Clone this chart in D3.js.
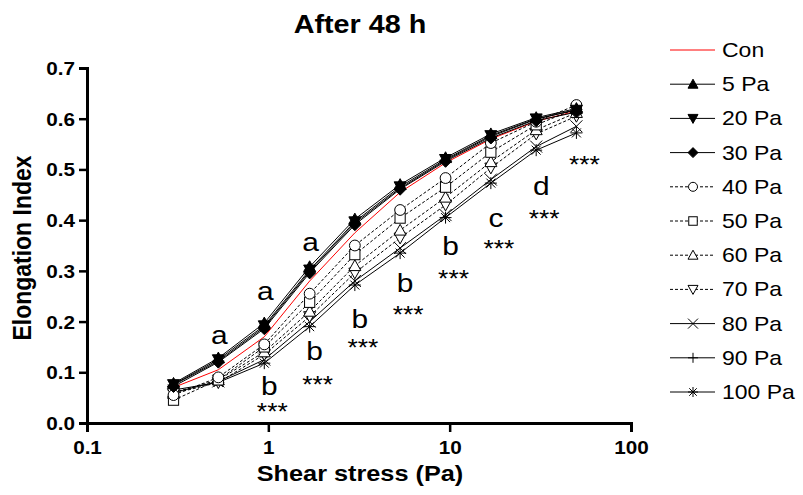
<!DOCTYPE html>
<html><head><meta charset="utf-8">
<script src="https://cdn.jsdelivr.net/npm/d3@7"></script>
<style>body{margin:0;background:#fff}svg{display:block}</style>
</head><body><svg id="c" width="803" height="495"></svg>
<script>
// ---------- data ----------
const shear = [0.3, 0.53, 0.95, 1.69, 3, 5.33, 9.49, 16.87, 30, 50];
const seriesNames = ["Con", "5 Pa", "20 Pa", "30 Pa", "40 Pa", "50 Pa", "60 Pa", "70 Pa", "80 Pa", "90 Pa", "100 Pa"];
const con   = [0.070, 0.105, 0.170, 0.280, 0.375, 0.455, 0.513, 0.560, 0.595, 0.615];
const pa5   = [0.078, 0.128, 0.197, 0.308, 0.402, 0.470, 0.523, 0.570, 0.602, 0.620];
const pa20  = [0.076, 0.125, 0.192, 0.302, 0.397, 0.466, 0.520, 0.567, 0.600, 0.617];
const pa30  = [0.072, 0.120, 0.186, 0.296, 0.391, 0.461, 0.516, 0.562, 0.596, 0.613];
const pa40  = [0.055, 0.090, 0.155, 0.255, 0.350, 0.420, 0.483, 0.552, 0.594, 0.627];
const pa50  = [0.045, 0.085, 0.150, 0.238, 0.332, 0.404, 0.465, 0.534, 0.588, 0.620];
const pa60  = [0.060, 0.085, 0.140, 0.220, 0.310, 0.380, 0.445, 0.515, 0.578, 0.612];
const pa70  = [0.058, 0.080, 0.135, 0.210, 0.296, 0.365, 0.430, 0.503, 0.570, 0.605];
const pa80  = [0.060, 0.082, 0.125, 0.200, 0.280, 0.345, 0.410, 0.480, 0.545, 0.585];
const pa90  = [0.075, 0.122, 0.189, 0.299, 0.394, 0.463, 0.518, 0.565, 0.599, 0.618];
const pa100 = [0.065, 0.080, 0.118, 0.190, 0.272, 0.335, 0.405, 0.473, 0.538, 0.572];
const seriesValues = [con, pa5, pa20, pa30, pa40, pa50, pa60, pa70, pa80, pa90, pa100];
const xTicks = [0.1, 1, 10, 100];
const xTickLabels = ["0.1", "1", "10", "100"];
const yTicks = [0, 0.1, 0.2, 0.3, 0.4, 0.5, 0.6, 0.7];
const yTickLabels = ["0.0", "0.1", "0.2", "0.3", "0.4", "0.5", "0.6", "0.7"];
// significance annotations (shear value, index value at glyph baseline)
const upperLetters = ["a", "a", "a"];
const upperShear   = [0.53, 0.95, 1.69];
const upperY       = [0.156, 0.243, 0.339];
const lowerLetters = ["b", "b", "b", "b", "b", "c", "d"];
const lowerShear   = [0.95, 1.69, 3, 5.33, 9.49, 16.87, 30];
const lowerY       = [0.055, 0.124, 0.187, 0.258, 0.331, 0.387, 0.450];
const starShear    = [0.95, 1.69, 3, 5.33, 9.49, 16.87, 30, 50];
const starY        = [0.006, 0.059, 0.132, 0.197, 0.269, 0.328, 0.387, 0.493];

// ---------- styles ----------
const markers = [null, "triUp", "triDown", "diamond", "circle", "square", "triUpOpen", "triDownOpen", "cross", "plus", "star"];
const dashed  = [false, false, false, false, true, true, true, true, false, false, false];
const SX = 1.15; // horizontal text stretch of the original
const FONT = "Arial, 'Liberation Sans', Helvetica, sans-serif";

const svg = d3.select("#c");
const x = d3.scaleLog().domain([0.1, 100]).range([87, 631]);
const y = d3.scaleLinear().domain([0, 0.7]).range([423, 68]);

function marker(g, type, cx, cy, s) {
  const r = s / 2;
  const k = {fill: "#000", stroke: "#000", "stroke-width": 1};
  const o = {fill: "#fff", stroke: "#000", "stroke-width": 1};
  const add = (tag, attrs) => { const e = g.append(tag); for (const a in attrs) e.attr(a, attrs[a]); return e; };
  switch (type) {
    case "triUp": add("path", {d: `M${cx},${cy - r}L${cx + r},${cy + r * 0.8}L${cx - r},${cy + r * 0.8}Z`, ...k}); break;
    case "triDown": add("path", {d: `M${cx},${cy + r}L${cx + r},${cy - r * 0.8}L${cx - r},${cy - r * 0.8}Z`, ...k}); break;
    case "diamond": add("path", {d: `M${cx},${cy - r}L${cx + r},${cy}L${cx},${cy + r}L${cx - r},${cy}Z`, ...k}); break;
    case "circle": add("circle", {cx, cy, r: r * 0.9, ...o}); break;
    case "square": add("rect", {x: cx - r * 0.85, y: cy - r * 0.85, width: r * 1.7, height: r * 1.7, ...o}); break;
    case "triUpOpen": add("path", {d: `M${cx},${cy - r}L${cx + r},${cy + r * 0.8}L${cx - r},${cy + r * 0.8}Z`, ...o}); break;
    case "triDownOpen": add("path", {d: `M${cx},${cy + r}L${cx + r},${cy - r * 0.8}L${cx - r},${cy - r * 0.8}Z`, ...o}); break;
    case "cross": add("path", {d: `M${cx - r},${cy - r}L${cx + r},${cy + r}M${cx - r},${cy + r}L${cx + r},${cy - r}`, fill: "none", stroke: "#000", "stroke-width": 1}); break;
    case "plus": add("path", {d: `M${cx - r},${cy}L${cx + r},${cy}M${cx},${cy - r}L${cx},${cy + r}`, fill: "none", stroke: "#000", "stroke-width": 1}); break;
    case "star": {
      const d = r * 0.75;
      add("path", {d: `M${cx - r},${cy}L${cx + r},${cy}M${cx},${cy - r}L${cx},${cy + r}M${cx - d},${cy - d}L${cx + d},${cy + d}M${cx - d},${cy + d}L${cx + d},${cy - d}`, fill: "none", stroke: "#000", "stroke-width": 1}); break;
    }
  }
}

function stext(parent, str, px, py, size, weight, anchor) {
  return parent.append("text")
    .attr("transform", `translate(${px},${py}) scale(${SX},1)`)
    .attr("text-anchor", anchor || "middle")
    .attr("font-family", FONT)
    .attr("font-size", size)
    .attr("font-weight", weight || "normal")
    .attr("fill", "#000")
    .text(str);
}

// ---------- series ----------
const line = d3.line().x(d => x(d[0])).y(d => y(d[1]));
const plot = svg.append("g");
seriesValues.forEach((vals, i) => {
  const pts = shear.map((s, j) => [s, vals[j]]);
  plot.append("path")
    .attr("d", line(pts))
    .attr("fill", "none")
    .attr("stroke", i === 0 ? "#ff0000" : "#000")
    .attr("stroke-width", 1)
    .attr("stroke-dasharray", dashed[i] ? "3,2" : null);
});
// markers, drawn bottom group first so filled markers end on top
[10, 9, 8, 7, 6, 5, 4, 3, 2, 1].forEach(i => {
  const g = plot.append("g");
  shear.forEach((s, j) => marker(g, markers[i], x(s), y(seriesValues[i][j]), 12));
});

// ---------- axes ----------
const xAxis = d3.axisBottom(x).tickValues(xTicks).tickFormat((d, i) => xTickLabels[i]).tickSizeOuter(0).tickSize(9).tickPadding(4);
const gx = svg.append("g").attr("transform", `translate(0,${y(0)})`).call(xAxis);
const yAxis = d3.axisLeft(y).tickValues(yTicks).tickFormat((d, i) => yTickLabels[i]).tickSizeOuter(0).tickSize(8).tickPadding(4);
const gy = svg.append("g").attr("transform", `translate(${x(0.1)},0)`).call(yAxis);
[gx, gy].forEach(g => {
  g.select(".domain").attr("stroke", "#000").attr("stroke-width", 3);
  g.selectAll(".tick line").attr("stroke", "#000").attr("stroke-width", 2.5);
  g.selectAll(".tick text").attr("font-family", FONT).attr("font-size", 18).attr("font-weight", "bold").attr("fill", "#000");
});
gx.selectAll(".tick text").attr("transform", `scale(${SX},1)`).attr("dy", "1em");
gy.selectAll(".tick text").attr("transform", `scale(${SX},1)`).attr("x", -12 / SX).attr("dy", "0.36em");

// ---------- titles ----------
stext(svg, "After 48 h", 360, 33, 25, "bold");
stext(svg, "Shear stress (Pa)", 360, 481, 22, "bold");
svg.append("text")
  .attr("transform", `translate(31,248) scale(${SX},1) rotate(-90)`)
  .attr("text-anchor", "middle").attr("font-family", FONT).attr("font-size", 23).attr("font-weight", "bold")
  .text("Elongation Index");

// ---------- annotations ----------
const ann = svg.append("g");
upperLetters.forEach((t, i) => stext(ann, t, x(upperShear[i]) + 1, y(upperY[i]), 26));
lowerLetters.forEach((t, i) => stext(ann, t, x(lowerShear[i]) + 5, y(lowerY[i]), 26));
starShear.forEach((s, i) => stext(ann, "***", x(s) + 8, y(starY[i]), 23));

// ---------- legend ----------
const lg = svg.append("g");
seriesNames.forEach((name, i) => {
  const cy = 50 + i * 34.2;
  lg.append("line").attr("x1", 670).attr("x2", 715).attr("y1", cy).attr("y2", cy)
    .attr("stroke", i === 0 ? "#ff0000" : "#000").attr("stroke-width", 1)
    .attr("stroke-dasharray", dashed[i] ? "3,2" : null);
  if (markers[i]) marker(lg, markers[i], 693, cy, 10);
  stext(lg, name, 722, cy + 7, 20, "normal", "start");
});
</script></body></html>
